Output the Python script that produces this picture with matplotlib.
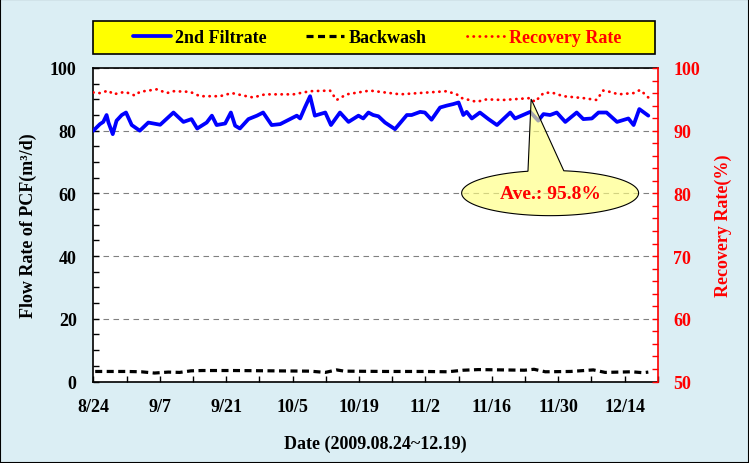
import numpy as np
import matplotlib
matplotlib.use("Agg")
import matplotlib.pyplot as plt
import matplotlib.dates as mdates
from matplotlib.patches import Rectangle, Polygon
from matplotlib.ticker import MultipleLocator, FixedLocator

plt.rcParams['font.family'] = ['Liberation Serif', 'DejaVu Serif']
plt.rcParams['font.weight'] = 'bold'

# ---------------- data (day offset from 2009-08-24, value) ----------------
filtrate_days = [0, 1.4, 2.1, 2.8, 3.2, 4.1, 4.9, 6.0, 6.9, 8.1, 9.8, 11.6, 14.1, 16.9, 19.0,
                 20.7, 21.9, 23.9, 25.0, 26.0, 27.8, 29.0, 29.9, 30.9, 32.7, 34.5, 35.8, 37.6,
                 39.4, 42.9, 43.6, 44.6, 45.7, 46.7, 47.8, 48.9, 50.1, 52.0, 53.8, 55.9, 56.9,
                 58.0, 59.0, 60.1, 61.5, 63.6, 66.1, 67.1, 68.9, 69.9, 71.3, 73.1, 74.5, 75.9,
                 77.0, 78.0, 78.7, 79.8, 81.5, 83.3, 85.1, 87.9, 88.9, 92.1, 93.8, 94.9, 96.3,
                 97.7, 99.5, 101.9, 103.3, 105.1, 106.5, 108.2, 110.4, 112.8, 113.9, 115.1, 117.0]
filtrate = [80.0, 82.1, 82.8, 85.0, 82.6, 78.9, 83.2, 85.0, 85.8, 81.8, 80.0, 82.6, 81.9, 85.8, 82.8,
            83.7, 80.7, 82.6, 84.8, 81.8, 82.3, 85.8, 81.6, 80.7, 83.7, 84.8, 85.8, 81.8,
            82.1, 84.8, 83.9, 87.4, 91.0, 84.8, 85.3, 85.8, 81.8, 85.8, 82.8, 84.8, 83.9,
            85.8, 85.0, 84.6, 82.6, 80.5, 85.0, 85.0, 86.0, 85.8, 83.5, 87.4, 88.0, 88.5,
            89.0, 85.0, 86.0, 83.9, 85.8, 83.7, 81.8, 85.8, 83.9, 86.0, 83.2, 85.3, 85.0,
            85.8, 82.8, 85.8, 83.7, 83.9, 85.8, 85.8, 82.8, 83.9, 81.8, 86.9, 84.8]

backwash_days = [0.4, 6.9, 10.1, 12.9, 15.8, 18.2, 20.6, 23.0, 29.5, 37.6, 45.7, 48.9, 51.3,
                 52.9, 61.8, 69.9, 74.7, 78.0, 81.2, 86.1, 90.9, 92.9, 95.3, 100.6, 105.4,
                 107.9, 113.5, 115.9, 117.0]
backwash = [3.2, 3.2, 3.1, 2.7, 3.0, 2.9, 3.4, 3.5, 3.5, 3.4, 3.3, 2.9, 3.7,
            3.3, 3.2, 3.2, 3.1, 3.6, 3.8, 3.7, 3.6, 3.9, 3.1, 3.2, 3.7,
            2.9, 3.1, 2.8, 3.0]

recovery_days = [0, 1.4, 3.2, 4.2, 6.7, 8.8, 9.8, 13.4, 15.5, 16.9, 20.4, 22.5, 26.7, 29.2,
                 32.3, 33.7, 36.2, 42.2, 45.7, 49.9, 51.3, 53.4, 58.3, 60.4, 64.7, 74.5, 76.6,
                 77.7, 80.8, 82.9, 86.4, 92.1, 93.1, 94.9, 96.6, 99.1, 103.3, 106.1, 107.5,
                 108.9, 110.7, 113.9, 115.3, 117.0]
recovery = [96.1, 96.0, 96.4, 95.8, 96.2, 95.6, 96.2, 96.6, 96.0, 96.3, 96.2, 95.5, 95.5, 96.0,
            95.5, 95.3, 95.8, 95.8, 96.3, 96.4, 94.9, 95.8, 96.4, 96.2, 95.8, 96.3, 95.8,
            95.2, 94.6, 95.0, 94.9, 95.2, 94.6, 96.0, 96.1, 95.5, 95.2, 94.9, 96.4,
            96.2, 95.8, 96.0, 96.5, 95.3]

recovery_avg = 95.8
series_names = ['2nd Filtrate', 'Backwash', 'Recovery Rate']
tick_labels = ['8/24', '9/7', '9/21', '10/5', '10/19', '11/2', '11/16', '11/30', '12/14']
start_date = '2009-08-24'

# ---------------- figure ----------------
W, H = 749, 464
fig = plt.figure(figsize=(W / 100, H / 100), dpi=100)
fig.patch.set_facecolor('#DBEEF4')
fig.patches.append(Rectangle((0, 0), 1, 1, transform=fig.transFigure, fill=False,
                             edgecolor='black', lw=1.5, zorder=10))

L, R, T, B = 93.3, 657.8, 69.0, 382.5
ax = fig.add_axes([L / W, 1 - B / H, (R - L) / W, (B - T) / H])
ax.set_facecolor('white')
ax2 = ax.twinx()

t0 = mdates.date2num(np.datetime64(start_date))
xf = t0 + np.array(filtrate_days)
xb = t0 + np.array(backwash_days)
xr = t0 + np.array(recovery_days)

l1, = ax.plot(xf, filtrate, color='#0000FF', lw=2.7, solid_joinstyle='round',
              solid_capstyle='round', zorder=3)
l2, = ax.plot(xb, backwash, color='black', lw=2.3, linestyle=(0, (2.2, 1.4)),
              dash_capstyle='butt', zorder=3)
l3, = ax2.plot(xr, recovery, color='#FF0000', lw=2.0, linestyle=(0, (0.1, 2.1)),
               dash_capstyle='round', zorder=3)

ax.set_xlim(t0, t0 + 119)
ax.set_ylim(0, 100)
ax2.set_ylim(50, 100)

ax.set_xticks(t0 + np.arange(0, 113, 14))
ax.set_xticklabels(tick_labels)
ax.xaxis.set_minor_locator(FixedLocator(t0 + np.arange(0, 120, 7)))
ax.yaxis.set_major_locator(MultipleLocator(20))
ax.yaxis.set_minor_locator(MultipleLocator(5))
ax2.yaxis.set_major_locator(MultipleLocator(10))
ax2.yaxis.set_minor_locator(MultipleLocator(2))

fs = 13
ax.tick_params(axis='both', which='both', direction='in', length=4, width=1, labelsize=fs)
ax.tick_params(axis='x', which='both', pad=12)
ax.tick_params(axis='y', which='both', pad=12, right=False)
ax2.tick_params(axis='y', which='both', direction='in', length=4, width=1,
                colors='#FF0000', labelsize=fs, pad=11)
for lab in ax.get_xticklabels() + ax.get_yticklabels() + ax2.get_yticklabels():
    lab.set_fontweight('bold')

ax.grid(axis='y', which='major', color='#808080', linestyle=(0, (5, 4)), lw=0.8)
ax.set_axisbelow(True)

for s in ['left', 'bottom', 'top']:
    ax.spines[s].set_color('black')
    ax.spines[s].set_linewidth(1.2)
ax.spines['right'].set_visible(False)
for s in ['left', 'bottom', 'top']:
    ax2.spines[s].set_visible(False)
ax2.spines['right'].set_color('#FF0000')
ax2.spines['right'].set_linewidth(1.2)

ax.set_xlabel('Date (2009.08.24~12.19)', fontsize=fs, fontweight='bold', labelpad=14)
ax.set_ylabel('Flow Rate of PCF(m\u00b3/d)', fontsize=fs, fontweight='bold', labelpad=9)
ax2.set_ylabel('Recovery Rate(%)', fontsize=fs, fontweight='bold', color='#FF0000', labelpad=11)

# ---------------- callout ----------------
cx, cy = t0 + 96.3, 80.05
a, b = 18.65, 3.6
tip = (t0 + 92.3, 95.05)
th1, th2 = np.deg2rad(104.5), np.deg2rad(81.1) + 2 * np.pi
th = np.linspace(th1, th2, 200)
pts = np.column_stack([cx + a * np.cos(th), cy + b * np.sin(th)])
pts = np.vstack([pts, [tip]])
ax2.add_patch(Polygon(pts, closed=True, facecolor='#FFFF80', alpha=0.65,
                      edgecolor='none', zorder=4))
ax2.add_patch(Polygon(pts, closed=True, facecolor='none', edgecolor='black', lw=0.8, zorder=5))
ax2.text(cx, cy, f'Ave.: {recovery_avg}%', ha='center', va='center', color='#FF0000',
         fontsize=14, fontweight='bold', zorder=6)

# ---------------- legend ----------------
fig.patches.append(Rectangle((93.4 / W, 1 - 55 / H), (654.7 - 93.4) / W, 33 / H,
                             transform=fig.transFigure, facecolor='#FFFF00',
                             edgecolor='black', lw=1.2, zorder=1))
leg = fig.legend([l1, l2, l3], series_names, loc='center',
                 bbox_to_anchor=(377 / W, 1 - 38.5 / H), ncol=3, frameon=False,
                 handlelength=2.1, handletextpad=0.25, columnspacing=2.2,
                 prop={'weight': 'bold', 'size': fs})
for txt, c in zip(leg.get_texts(), ['black', 'black', '#FF0000']):
    txt.set_color(c)
leg.set_zorder(5)

fig.savefig('out.png', dpi=100, facecolor=fig.get_facecolor())
